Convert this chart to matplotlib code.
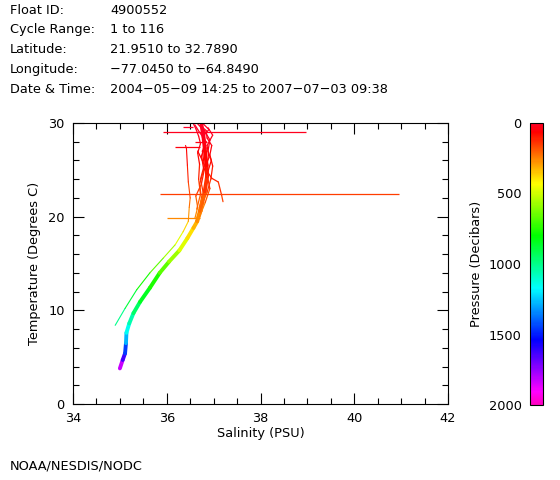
import numpy as np
import matplotlib
matplotlib.use("Agg")
import matplotlib.pyplot as plt
from matplotlib.collections import LineCollection
from matplotlib.colors import Normalize
from matplotlib.cm import ScalarMappable
from matplotlib.ticker import MultipleLocator

# =========================================================
# DATA
# =========================================================
header_labels = ["Float ID:", "Cycle Range:", "Latitude:", "Longitude:", "Date & Time:"]
header_values = ["4900552", "1 to 116", "21.9510 to 32.7890",
                 "\u221277.0450 to \u221264.8490",
                 "2004\u221205\u221209 14:25 to 2007\u221207\u221203 09:38"]

# main (mean) profile: salinity, temperature, pressure
main_sal = [35.00, 35.06, 35.11, 35.13, 35.14, 35.20, 35.29, 35.43, 35.64, 35.85,
            36.05, 36.27, 36.44, 36.57, 36.65, 36.72, 36.81, 36.86, 36.85, 36.81,
            36.78, 36.74]
main_temp = [3.8, 4.7, 5.4, 6.5, 7.6, 8.6, 9.7, 10.9, 12.4, 14.0,
             15.2, 16.4, 17.7, 18.8, 19.5, 20.6, 22.7, 24.3, 25.5, 27.3,
             28.7, 29.8]
main_pres = [1950, 1700, 1550, 1350, 1200, 1100, 1000, 900, 800, 720,
             620, 530, 430, 350, 300, 240, 170, 110, 80, 45,
             20, 5]

# thin outlier profile on the fresh side
left_sal = [34.90, 35.11, 35.36, 35.64, 35.93, 36.18, 36.35, 36.46, 36.48, 36.50,
            36.46, 36.44, 36.42, 36.40]
left_temp = [8.4, 10.2, 12.2, 14.0, 15.6, 17.0, 18.4, 19.5, 21.0, 22.0,
             23.7, 25.5, 27.3, 27.6]
left_pres = [1050, 950, 830, 720, 620, 520, 420, 320, 240, 200,
             140, 90, 45, 40]

# a few thin near-surface profiles in the tangle at the top
surf_sal = [
    [36.62, 36.70, 36.78, 36.72, 36.80, 36.76, 36.84, 36.70, 36.60],
    [36.70, 36.82, 36.92, 36.86, 36.95, 36.88, 36.92, 36.80, 36.66],
    [36.66, 36.76, 36.84, 36.96, 37.10, 37.17, 37.20],
    [36.68, 36.74, 36.70, 36.79, 36.74, 36.82, 36.76, 36.90, 36.78],
    [36.60, 36.66, 36.62, 36.74, 36.80, 36.90, 36.86, 36.98, 36.88],
    [36.64, 36.72, 36.68, 36.70, 36.66, 36.72, 36.68, 36.62, 36.56],
    [36.72, 36.86, 36.94, 36.98, 36.92, 36.96, 36.86, 36.84, 36.72],
]
surf_temp = [
    [19.5, 21.0, 22.5, 24.0, 25.5, 27.0, 28.0, 29.0, 29.8],
    [20.0, 21.5, 23.0, 24.5, 26.0, 27.0, 28.2, 29.2, 29.9],
    [27.0, 26.0, 25.0, 24.1, 23.7, 22.3, 21.6],
    [20.5, 22.0, 23.5, 25.0, 26.5, 27.5, 28.5, 29.3, 29.9],
    [19.8, 21.0, 22.2, 23.5, 25.0, 26.3, 27.6, 28.7, 29.5],
    [20.8, 22.4, 24.0, 25.6, 26.8, 27.8, 28.6, 29.4, 30.0],
    [21.0, 22.6, 24.0, 25.4, 26.6, 27.6, 28.4, 29.2, 29.7],
]
surf_pres = [
    [300, 230, 170, 120, 80, 50, 30, 15, 5],
    [280, 210, 150, 100, 65, 50, 30, 12, 5],
    [50, 70, 90, 110, 120, 150, 170],
    [260, 190, 140, 95, 60, 40, 25, 12, 5],
    [290, 230, 180, 130, 90, 60, 35, 20, 8],
    [240, 180, 130, 90, 60, 40, 25, 10, 2],
    [230, 170, 125, 90, 60, 40, 25, 12, 6],
]

# horizontal spikes (bad salinity values at one level)
spike_temp = [29.6, 29.0, 28.0, 27.4, 22.4, 19.9]
spike_sal_lo = [36.35, 35.91, 36.60, 36.17, 35.85, 36.00]
spike_sal_hi = [36.55, 38.96, 36.85, 36.71, 40.95, 36.71]
spike_pres = [5, 20, 35, 45, 150, 260]

cbar_ticks = [0, 500, 1000, 1500, 2000]

# =========================================================
# FIGURE
# =========================================================
plt.rcParams["font.family"] = "DejaVu Sans"
plt.rcParams["font.size"] = 9.3

cmap = plt.get_cmap("gist_rainbow")
norm = Normalize(vmin=0, vmax=2000)

fig = plt.figure(figsize=(5.6, 4.8), dpi=100)

for i, (lab, val) in enumerate(zip(header_labels, header_values)):
    y = 1 - (10 + i * 19.8) / 480
    fig.text(10 / 560, y, lab, ha="left", va="center")
    fig.text(110 / 560, y, val, ha="left", va="center")

fig.text(10 / 560, 1 - 466 / 480, "NOAA/NESDIS/NODC", ha="left", va="center")

ax = fig.add_axes([73 / 560, 1 - 404 / 480, 375 / 560, 281 / 480])


def add_profile(sal, temp, pres, lw):
    pts = np.column_stack([sal, temp])
    segs = np.stack([pts[:-1], pts[1:]], axis=1)
    p = np.asarray(pres, dtype=float)
    lc = LineCollection(segs, cmap=cmap, norm=norm, linewidths=lw, capstyle="round")
    lc.set_array((p[:-1] + p[1:]) / 2)
    ax.add_collection(lc)


add_profile(left_sal, left_temp, left_pres, 0.8)
add_profile(main_sal, main_temp, main_pres, 2.8)
for s, t, p in zip(surf_sal, surf_temp, surf_pres):
    add_profile(s, t, p, 0.9)

for t, lo, hi, p in zip(spike_temp, spike_sal_lo, spike_sal_hi, spike_pres):
    ax.hlines(t, lo, hi, color=cmap(norm(p)), linewidth=0.9)

ax.set_xlim(34, 42)
ax.set_ylim(0, 30)
ax.xaxis.set_major_locator(MultipleLocator(2))
ax.xaxis.set_minor_locator(MultipleLocator(0.5))
ax.yaxis.set_major_locator(MultipleLocator(10))
ax.yaxis.set_minor_locator(MultipleLocator(2))
ax.tick_params(which="both", direction="in", top=True, right=True, width=0.8)
ax.tick_params(which="major", length=8, pad=6)
ax.tick_params(which="minor", length=4)
for sp in ax.spines.values():
    sp.set_linewidth(0.8)
ax.set_xlabel("Salinity (PSU)", labelpad=1)
ax.set_ylabel("Temperature (Degrees C)", labelpad=5)

# colorbar
cax = fig.add_axes([530 / 560, 1 - 405 / 480, 13 / 560, 282 / 480])
sm = ScalarMappable(norm=norm, cmap=cmap)
cb = fig.colorbar(sm, cax=cax, orientation="vertical")
cb.outline.set_linewidth(0.8)
cax.invert_yaxis()
cax.yaxis.set_ticks_position("left")
cax.yaxis.set_label_position("left")
cb.set_ticks(cbar_ticks)
cax.tick_params(length=0, pad=6)
cb.set_label("Pressure (Decibars)", labelpad=4)

fig.savefig("out.png", dpi=100)
